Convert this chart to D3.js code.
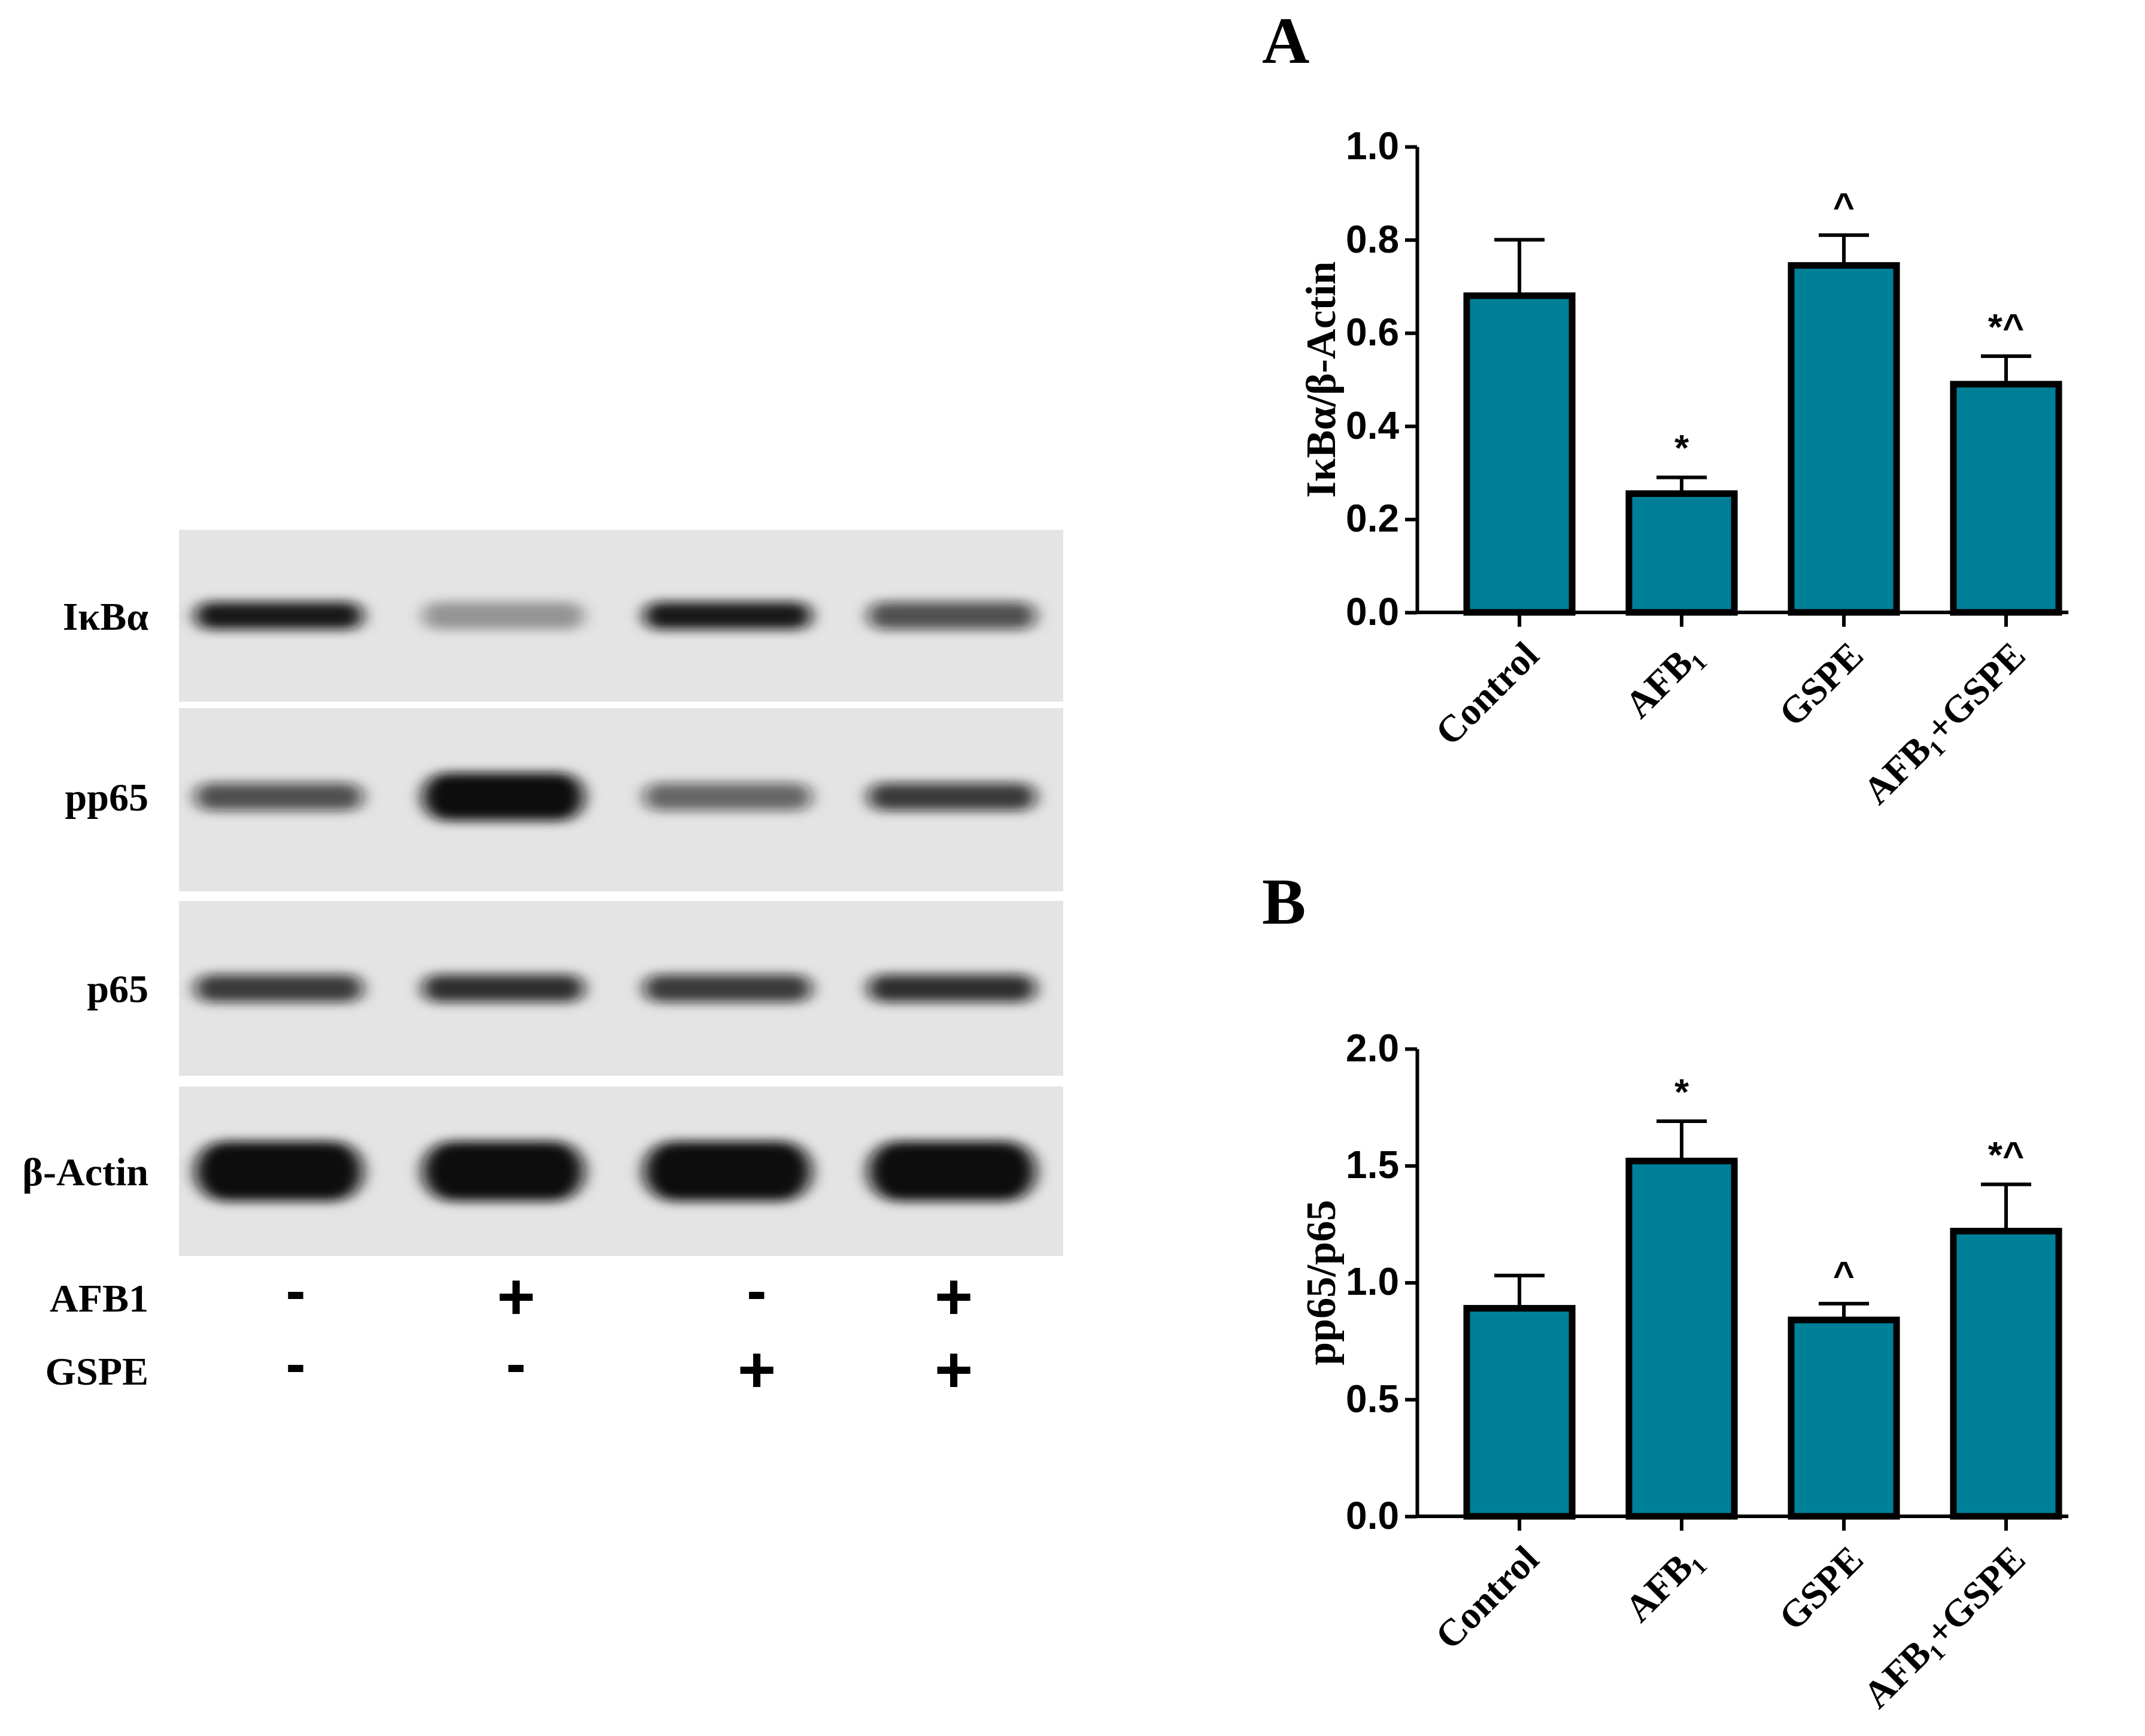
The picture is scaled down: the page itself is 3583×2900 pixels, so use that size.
<!DOCTYPE html>
<html><head><meta charset="utf-8">
<script src="https://cdn.jsdelivr.net/npm/d3@7"></script>
<style>body{margin:0;background:#fff}</style></head>
<body><script>
const categories = ["Control","AFB\u2081","GSPE","AFB\u2081+GSPE"];
const valuesA = [0.68,0.255,0.745,0.49];
const errorsA = [0.12,0.035,0.065,0.06];
const marksA = ["","*","^","*^"];
const valuesB = [0.89,1.52,0.84,1.22];
const errorsB = [0.14,0.17,0.07,0.20];
const marksB = ["","*","^","*^"];
const ticksA = [0,0.2,0.4,0.6,0.8,1.0];
const ticksB = [0,0.5,1.0,1.5,2.0];
// western blot
const blotRows = ["I\u03baB\u03b1","pp65","p65","\u03b2-Actin"];
const blotIntensity = [[0.95,0.35,0.95,0.7],[0.7,1.0,0.6,0.8],[0.8,0.85,0.8,0.85],[1,1,1,1]];
const treatAFB1 = ["-","+","-","+"];
const treatGSPE = ["-","-","+","+"];

const W=3583,H=2900;
const svg=d3.select("body").append("svg").attr("width",W).attr("height",H);
const defs=svg.append("defs");
defs.append("filter").attr("id","blur").attr("x","-20%").attr("y","-100%").attr("width","140%").attr("height","300%")
 .append("feGaussianBlur").attr("stdDeviation","14 9");

const fill="#007f99";
function chart(y0,y1,max,ticks,vals,errs,marks,title,letter,letterY){
  const x=d3.scaleBand().domain(categories).range([2450,3439]).paddingInner(0.35).paddingOuter(0);
  const y=d3.scaleLinear().domain([0,max]).range([y1,y0]);
  const g=svg.append("g");
  g.selectAll("rect.bar").data(vals).join("rect")
   .attr("x",(d,i)=>x(categories[i])).attr("width",x.bandwidth())
   .attr("y",d=>y(d)).attr("height",d=>y1-y(d))
   .attr("fill",fill).attr("stroke","#000").attr("stroke-width",11);
  vals.forEach((v,i)=>{
    const cx=x(categories[i])+x.bandwidth()/2;
    g.append("line").attr("x1",cx).attr("x2",cx).attr("y1",y(v)-5).attr("y2",y(v+errs[i])).attr("stroke","#000").attr("stroke-width",6);
    g.append("line").attr("x1",cx-42).attr("x2",cx+42).attr("y1",y(v+errs[i])).attr("y2",y(v+errs[i])).attr("stroke","#000").attr("stroke-width",6);
    if(marks[i]) g.append("text").attr("x",cx).attr("y",y(v+errs[i])-28).attr("text-anchor","middle")
      .attr("font-family","Liberation Sans, Arial").attr("font-weight","bold").attr("font-size",62).text(marks[i]);
  });
  const ya=g.append("g").attr("transform","translate(2367,0)").call(d3.axisLeft(y).tickValues(ticks).tickFormat(d3.format(".1f")).tickSize(20).tickSizeOuter(0));
  const xa=g.append("g").attr("transform",`translate(0,${y1})`).call(d3.axisBottom(x).tickSize(24).tickSizeOuter(0));
  [ya,xa].forEach(a=>{a.select(".domain").attr("stroke-width",6);a.selectAll(".tick line").attr("stroke-width",6);});
  svg.selectAll(".domain").attr("stroke","#000");
  xa.select(".domain").attr("d",`M2364,0H3455`);
  ya.selectAll("text").attr("font-family","Liberation Sans, Arial").attr("font-weight","bold").attr("font-size",64).attr("x",-30).attr("fill","#000");
  xa.selectAll("text").attr("font-family","Liberation Serif, Times New Roman").attr("font-weight","bold").attr("font-size",64)
    .attr("fill","#000").attr("text-anchor","end").attr("transform","translate(20,60) rotate(-45)").attr("dy","0.35em").attr("y",0).attr("x",0);
  svg.append("text").attr("transform",`translate(2230,${(y0+y1)/2}) rotate(-90)`).attr("text-anchor","middle")
    .attr("font-family","Liberation Serif, Times New Roman").attr("font-weight","bold").attr("font-size",70).text(title);
  svg.append("text").attr("x",2108).attr("y",letterY).attr("font-family","Liberation Serif, Times New Roman").attr("font-weight","bold").attr("font-size",110).text(letter);
}
chart(245,1023,1.0,ticksA,valuesA,errorsA,marksA,"I\u03baB\u03b1/\u03b2-Actin","A",105);
chart(1752,2533,2.0,ticksB,valuesB,errorsB,marksB,"pp65/p65","B",1543);

// blot
const panels=[[885,1172],[1183,1489],[1505,1797],[1815,2098]];
const lanes=d3.scalePoint().domain([0,1,2,3]).range([466,1590]);
const laneW=[300,290,300,300];
panels.forEach((p,r)=>{
  svg.append("rect").attr("x",299).attr("y",p[0]).attr("width",1477).attr("height",p[1]-p[0]).attr("fill","#e4e4e4");
  const cy=(p[0]+p[1])/2 + (r==1?-5:0);
  blotIntensity[r].forEach((v,i)=>{
    const h=r==3?100:(r==1&&i==1?80:46);
    svg.append("rect").attr("x",lanes(i)-laneW[i]/2+10).attr("width",laneW[i]-20).attr("y",cy-h/2).attr("height",h)
      .attr("rx",h/2).attr("fill",`rgba(15,15,15,${v})`).attr("filter","url(#blur)");
  });
  svg.append("text").attr("x",248).attr("y",cy).attr("dy","0.35em").attr("text-anchor","end")
    .attr("font-family","Liberation Serif, Times New Roman").attr("font-weight","bold").attr("font-size",66).text(blotRows[r]);
});
const signX=[494,862,1264,1593];
[[treatAFB1,2160,"AFB1"],[treatGSPE,2282,"GSPE"]].forEach(([arr,yy,lab])=>{
  svg.append("text").attr("x",248).attr("y",yy+8).attr("dy","0.35em").attr("text-anchor","end")
   .attr("font-family","Liberation Serif, Times New Roman").attr("font-weight","bold").attr("font-size",66).text(lab);
  arr.forEach((s,i)=>svg.append("text").attr("x",signX[i]).attr("y",yy+(s=="+"?5:-5)).attr("dy","0.35em").attr("text-anchor","middle")
   .attr("font-family","Liberation Sans, Arial").attr("font-weight","bold").attr("font-size",s=="+"?110:100).text(s=="+"?"+":"-"));
});
</script></body></html>
